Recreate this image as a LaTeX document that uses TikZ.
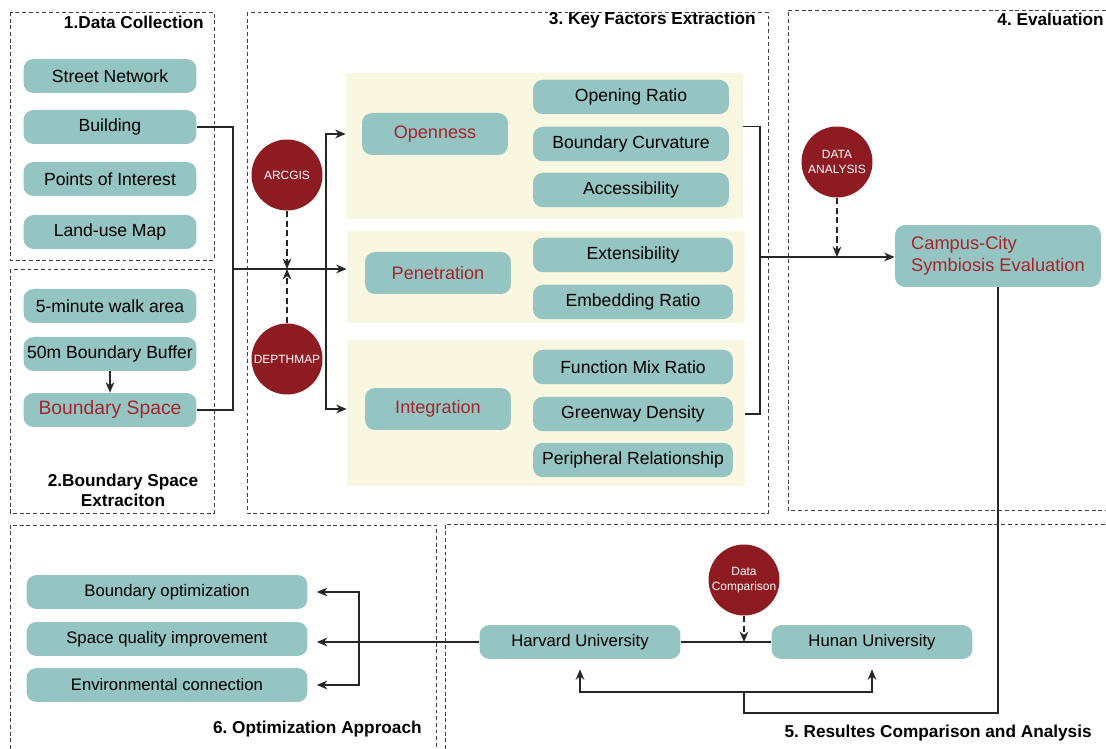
\documentclass[tikz,border=0pt]{standalone}
\usepackage{fontspec}
\setmainfont{Liberation Sans}
\frenchspacing
\usetikzlibrary{arrows.meta, positioning}
\definecolor{tealbox}{HTML}{95C5C2}
\definecolor{toolred}{HTML}{8E1B21}
\definecolor{redtext}{HTML}{A3262C}
\definecolor{panelbg}{HTML}{FAF7E0}

\begin{document}
\begin{tikzpicture}[
        x=0.02cm, y=-0.02cm,
        box/.style={rectangle, rounded corners=0.2cm, fill=tealbox, minimum width=3.46cm, minimum height=0.68cm, align=center, inner sep=2pt, font=\fontsize{10}{12}\selectfont},
        factor/.style={box, minimum width=4cm, minimum height=0.69cm},
        dimbox/.style={box, text=redtext, minimum width=2.92cm, minimum height=0.84cm, font=\fontsize{10.3}{12}\selectfont},
        unibox/.style={box, minimum width=4.02cm, font=\fontsize{9.5}{11}\selectfont},
        optbox/.style={box, minimum width=5.62cm, font=\fontsize{9.5}{11}\selectfont},
        tool/.style={circle, fill=toolred, text=white, minimum size=1.42cm, inner sep=0pt, align=center, font=\fontsize{6.8}{8.5}\selectfont},
        panel/.style={rectangle, fill=panelbg, inner sep=0pt},
        frame/.style={draw=black!75, dash pattern=on 2.2pt off 1.6pt, line width=0.5pt},
        sectitle/.style={inner sep=0pt, font=\fontsize{9.8}{11.4}\selectfont\bfseries},
        link/.style={draw=black!85, line width=0.75pt},
        arrow/.style={link, -{Stealth[length=6pt, width=5pt]}},
        dasharrow/.style={arrow, dash pattern=on 3.5pt off 2pt}
    ]
        \useasboundingbox (0,0) rectangle (1106,749);

        % Section frames
        \draw[frame] (10,12) rectangle (214,260);
        \draw[frame] (10,269) rectangle (214,513);
        \draw[frame] (247,12) rectangle (768,513);
        \draw[frame] (1106,10) -- (788,10) -- (788,510) -- (1106,510);
        \draw[frame] (10,749) -- (10,525) -- (436,525) -- (436,749);
        \draw[frame] (445,749) -- (445,524) -- (1106,524);

        % Section titles
        \node (t1) [sectitle, anchor=east] at (204,22) {1.Data Collection};
        \node (t2) [sectitle, align=center] at (123,490) {2.Boundary Space\\Extraciton};
        \node (t3) [sectitle, anchor=east] at (756,20) {3. Key Factors Extraction};
        \node (t4) [sectitle, anchor=east] at (1104,19) {4. Evaluation};
        \node (t5) [sectitle, anchor=east] at (1092,733) {5. Resultes Comparison and Analysis};
        \node (t6) [sectitle, anchor=east] at (422,729) {6. Optimization Approach};

        % Data Collection
        \node (street) [box] at (110,76) {Street Network};
        \node (bld) [box] at (110,127) {Building};
        \node (poi) [box] at (110,179) {Points of Interest};
        \node (luse) [box] at (110,232) {Land-use Map};

        % Boundary Space Extraction
        \node (walk) [box] at (110,306) {5-minute walk area};
        \node (buf) [box] at (110,354) {50m Boundary Buffer};
        \node (bspace) [box, text=redtext, font=\fontsize{11}{13}\selectfont] at (110,410) {Boundary Space};
        \draw[arrow] (buf.south) -- (bspace.north);

        % Key Factors panels
        \node (panA) [panel, minimum width=7.94cm, minimum height=2.92cm] at (544.5,146) {};
        \node (panB) [panel, minimum width=7.96cm, minimum height=1.84cm] at (546,277) {};
        \node (panC) [panel, minimum width=7.96cm, minimum height=2.92cm] at (546,413) {};

        \node (opn) [dimbox] at (435,134) {Openness};
        \node (pen) [dimbox] at (438,273) {Penetration};
        \node (intg) [dimbox] at (438,409) {Integration};

        \node (oratio) [factor, minimum width=3.92cm] at (631,97) {Opening Ratio};
        \node (bcurv) [factor, minimum width=3.92cm] at (631,144) {Boundary Curvature};
        \node (acc) [factor, minimum width=3.92cm] at (631,190) {Accessibility};
        \node (ext) [factor] at (633,255) {Extensibility};
        \node (emb) [factor] at (633,302) {Embedding Ratio};
        \node (fmix) [factor] at (633,367) {Function Mix Ratio};
        \node (gway) [factor] at (633,414) {Greenway Density};
        \node (peri) [factor] at (633,460) {Peripheral Relationship};

        % Tools
        \node (arc) [tool] at (287,175) {ARCGIS};
        \node (dep) [tool] at (287,359) {DEPTHMAP};
        \node (dana) [tool] at (837,162) {DATA\\ANALYSIS};
        \node (dcmp) [tool] at (744,580) {Data\\Comparison};

        % Evaluation
        \node (campus) [box, text=redtext, minimum width=4.12cm, minimum height=1.24cm, align=left, font=\fontsize{10.4}{12.5}\selectfont] at (998,256) {Campus-City\\Symbiosis Evaluation};

        % Results comparison
        \node (harv) [unibox] at (580,642) {Harvard University};
        \node (hunan) [unibox] at (872,642) {Hunan University};

        % Optimization
        \node (bopt) [optbox] at (167,592) {Boundary optimization};
        \node (spq) [optbox] at (167,639) {Space quality improvement};
        \node (envc) [optbox] at (167,685) {Environmental connection};

        % Junctions
        \coordinate (lj) at (233,269);
        \coordinate (bj) at (326,269);
        \coordinate (rj) at (760,257);
        \coordinate (cbot) at (744,713);
        \coordinate (fork) at (744,692);
        \coordinate (obr) at (359,639);

        % Connections
        \draw[link] (bld.east) -| (lj) |- (bspace.east);
        \draw[arrow] (lj) -- (lj -| panB.west);
        \draw[arrow] (bj) |- (panA.west |- opn.center);
        \draw[arrow] (bj) |- (panC.west |- intg.center);
        \draw[dasharrow] (arc.south) -- (arc.south |- lj);
        \draw[dasharrow] (dep.north) -- (dep.north |- lj);
        \draw[link] (panA.east |- bcurv.north) -| (rj) |- (panC.east |- gway.center);
        \draw[arrow] (rj) -- (rj -| campus.west);
        \draw[dasharrow] (dana.south) -- (dana.south |- rj);
        \draw[link] (campus.south) |- (cbot) -- (fork);
        \draw[arrow, shorten >=0.2cm] (fork) -| (harv.south);
        \draw[arrow, shorten >=0.2cm] (fork) -| (hunan.south);
        \draw[dasharrow] (dcmp.south) -- (dcmp.south |- harv.east);
        \draw[link] (harv.east) -- (hunan.west);
        \draw[arrow, shorten >=0.18cm] (harv.west) -- (harv.west -| spq.east);
        \draw[arrow, shorten >=0.18cm] (obr) |- (bopt.east);
        \draw[arrow, shorten >=0.18cm] (obr) |- (envc.east);
    \end{tikzpicture}
\end{document}
